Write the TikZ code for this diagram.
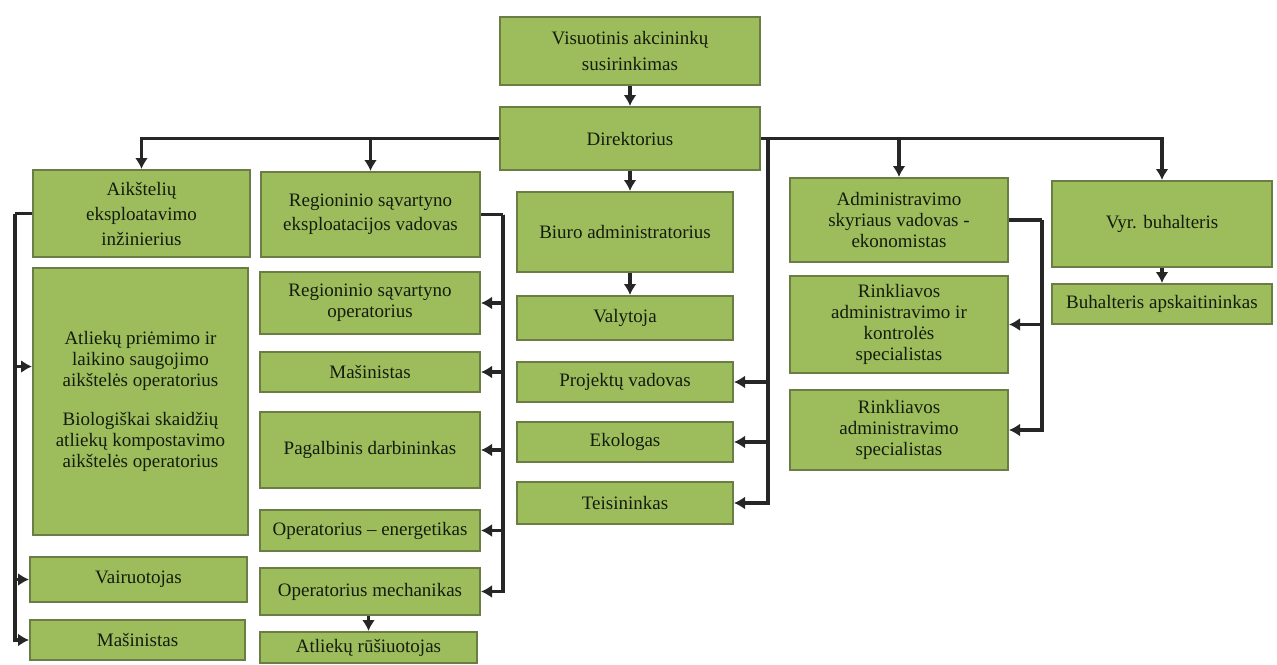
\documentclass[tikz,border=0pt]{standalone}
\usepackage{fontspec}
\setmainfont{Liberation Serif}
\usetikzlibrary{arrows.meta,calc}
\definecolor{boxfill}{HTML}{9DBD5C}
\definecolor{boxdraw}{HTML}{6A7D45}
\definecolor{linec}{HTML}{262626}
\definecolor{txt}{HTML}{141C0E}
\begin{document}
\begin{tikzpicture}[x=1pt,y=-1pt,
  box/.style={draw=boxdraw, fill=boxfill, line width=2pt, align=center, inner sep=1pt,
    font=\fontsize{19}{21}\selectfont, text=txt},
  arr/.style={draw=linec, line width=3.2pt, -{Latex[length=11pt,width=13pt]}},
  ln/.style={draw=linec, line width=3.2pt}]
\useasboundingbox (0,0) rectangle (1277,664);
\fill[white] (0,0) rectangle (1277,664);

% top
\node[box, minimum width=260pt, minimum height=68pt, font=\fontsize{19}{26}\selectfont] (vis) at (630,51) {Visuotinis akcininkų\\susirinkimas};
\node[box, minimum width=260pt, minimum height=63pt] (dir) at (630,138.5) {Direktorius};

% second row
\node[box, minimum width=217pt, minimum height=87pt, font=\fontsize{19}{25}\selectfont] (aik) at (141.5,213.5) {Aikštelių\\eksploatavimo\\inžinierius};
\node[box, minimum width=219pt, minimum height=85pt, font=\fontsize{19}{24}\selectfont] (reg) at (370.5,214.5) {Regioninio sąvartyno\\eksploatacijos vadovas};
\node[box, minimum width=216pt, minimum height=80pt] (biu) at (625,232) {Biuro administratorius};
\node[box, minimum width=218pt, minimum height=84pt] (adm) at (899,220) {Administravimo\\skyriaus vadovas -\\ekonomistas};
\node[box, minimum width=220pt, minimum height=86pt] (vyr) at (1162,224) {Vyr. buhalteris};

% column 1
\node[box, minimum width=215pt, minimum height=267pt] (big) at (140.5,401.5) {Atliekų priėmimo ir\\laikino saugojimo\\aikštelės operatorius\\[18pt]Biologiškai skaidžių\\atliekų kompostavimo\\aikštelės operatorius};
\node[box, minimum width=217pt, minimum height=45pt] (vai) at (138.5,579.5) {Vairuotojas};
\node[box, minimum width=215pt, minimum height=40pt] (mas1) at (137.5,640) {Mašinistas};

% column 2
\node[box, minimum width=220pt, minimum height=62pt] (rso) at (370,303) {Regioninio sąvartyno\\operatorius};
\node[box, minimum width=220pt, minimum height=40pt] (mas2) at (370,372) {Mašinistas};
\node[box, minimum width=220pt, minimum height=76pt] (pag) at (370,450) {Pagalbinis darbininkas};
\node[box, minimum width=220pt, minimum height=41pt] (ene) at (370,530.5) {Operatorius – energetikas};
\node[box, minimum width=220pt, minimum height=47pt] (mec) at (370,591.5) {Operatorius mechanikas};
\node[box, minimum width=217pt, minimum height=31pt] (rus) at (368.5,647.5) {Atliekų rūšiuotojas};

% column 3
\node[box, minimum width=216pt, minimum height=44pt] (val) at (625,318) {Valytoja};
\node[box, minimum width=216pt, minimum height=40pt] (pro) at (625,382) {Projektų vadovas};
\node[box, minimum width=216pt, minimum height=40pt] (eko) at (625,442) {Ekologas};
\node[box, minimum width=216pt, minimum height=42pt] (tei) at (625,503) {Teisininkas};

% column 4
\node[box, minimum width=218pt, minimum height=97pt] (rk1) at (899,324.5) {Rinkliavos\\administravimo ir\\kontrolės\\specialistas};
\node[box, minimum width=218pt, minimum height=80pt] (rk2) at (899,430) {Rinkliavos\\administravimo\\specialistas};

% column 5
\node[box, minimum width=220pt, minimum height=40pt] (buh) at (1162,304) {Buhalteris apskaitininkas};

% connectors
\draw[arr] (vis.south) -- (dir.north);
\draw[arr] (dir.west) -| (aik.north);
\draw[arr] (dir.west) -| (reg.north);
\draw[arr] (dir.east) -| (adm.north);
\draw[arr] (dir.east) -| (vyr.north);
\draw[arr] (dir.south) -- (dir.south |- biu.north);
\draw[arr] (biu.south -| dir.south) -- (val.north -| dir.south);
\draw[arr] (vyr.south) -- (buh.north);
\draw[arr] (mec.south -| rus.north) -- (rus.north);

\coordinate (bt) at (768,138.5);
\draw[ln] (dir.east) -- (bt);
\draw[arr] (bt) |- (pro.east);
\draw[arr] (bt) |- (eko.east);
\draw[arr] (bt) |- (tei.east);

\coordinate (lt) at (15,213.5);
\draw[ln] (aik.west) -- (lt);
\draw[arr] (lt) |- ($(big.north west)!0.37!(big.south west)$);
\draw[arr] (lt) |- (vai.west);
\draw[arr] (lt) |- (mas1.west);

\coordinate (rt) at (503,214.5);
\draw[ln] (reg.east) -- (rt);
\draw[arr] (rt) |- (rso.east);
\draw[arr] (rt) |- (mas2.east);
\draw[arr] (rt) |- (pag.east);
\draw[arr] (rt) |- (ene.east);
\draw[arr] (rt) |- (mec.east);

\coordinate (at) at (1042,220);
\draw[ln] (adm.east) -- (at);
\draw[arr] (at) |- (rk1.east);
\draw[arr] (at) |- (rk2.east);
\end{tikzpicture}
\end{document}
